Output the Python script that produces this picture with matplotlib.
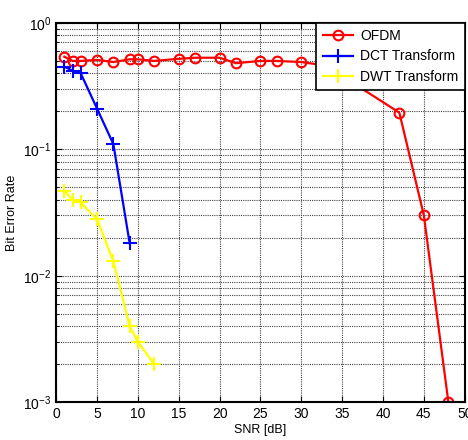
import numpy as np
import matplotlib
matplotlib.use("Agg")
import matplotlib.pyplot as plt
from matplotlib.ticker import LogLocator, NullFormatter

plt.rcParams['font.family'] = ['Liberation Sans', 'DejaVu Sans']
plt.rcParams['mathtext.fontset'] = 'custom'
plt.rcParams['mathtext.rm'] = 'Liberation Sans'
plt.rcParams['mathtext.it'] = 'Liberation Sans'

# data
snr_ofdm = [1, 2, 3, 5, 7, 9, 10, 12, 15, 17, 20, 22, 25, 27, 30, 33, 42, 45, 48]
ber_ofdm = [0.54, 0.50, 0.50, 0.51, 0.49, 0.515, 0.515, 0.50, 0.52, 0.53, 0.53, 0.48,
            0.50, 0.50, 0.49, 0.46, 0.195, 0.030, 0.001]

snr_dct = [1, 2, 3, 5, 7, 9]
ber_dct = [0.45, 0.42, 0.40, 0.21, 0.11, 0.018]

snr_dwt = [1, 2, 3, 5, 7, 9, 10, 12]
ber_dwt = [0.047, 0.040, 0.038, 0.028, 0.013, 0.004, 0.003, 0.002]

fig = plt.figure(figsize=(4.68, 4.4), dpi=100)
ax = fig.add_axes([0.12, 0.086, 0.873, 0.862])

ax.semilogy(snr_ofdm, ber_ofdm, color='red', marker='o', markersize=7,
            markerfacecolor='none', markeredgewidth=1.5, linewidth=1.6, label='OFDM')
ax.semilogy(snr_dct, ber_dct, color='blue', marker='+', markersize=10,
            markeredgewidth=1.5, linewidth=1.6, label='DCT Transform')
ax.semilogy(snr_dwt, ber_dwt, color='yellow', marker='+', markersize=10,
            markeredgewidth=1.5, linewidth=1.6, label='DWT Transform')

ax.set_xlim(0, 50)
ax.set_ylim(1e-3, 1)
ax.set_xticks(np.arange(0, 51, 5))
ax.yaxis.set_major_locator(LogLocator(base=10))
ax.yaxis.set_minor_locator(LogLocator(base=10, subs=np.arange(2, 10)))
ax.yaxis.set_minor_formatter(NullFormatter())

ax.grid(True, which='major', color='#444444', linestyle=(0, (1, 1)), linewidth=0.8)
ax.grid(True, which='minor', axis='y', color='#444444', linestyle=(0, (1, 1)), linewidth=0.8)

ax.tick_params(which='both', direction='in', top=True, right=True, labelsize=10)
ax.tick_params(which='major', length=4)
ax.tick_params(which='minor', length=2.5)
for s in ax.spines.values():
    s.set_linewidth(1.5)

ax.set_xlabel('SNR [dB]', fontsize=9, labelpad=2)
ax.set_ylabel('Bit Error Rate', fontsize=9, labelpad=4)

leg = ax.legend(loc='upper right', fontsize=10, fancybox=False, framealpha=1,
                edgecolor='black', borderaxespad=0, handlelength=2.2,
                handletextpad=0.5, borderpad=0.45, labelspacing=0.45)
leg.get_frame().set_linewidth(1.2)

fig.savefig('out.png', dpi=100)
